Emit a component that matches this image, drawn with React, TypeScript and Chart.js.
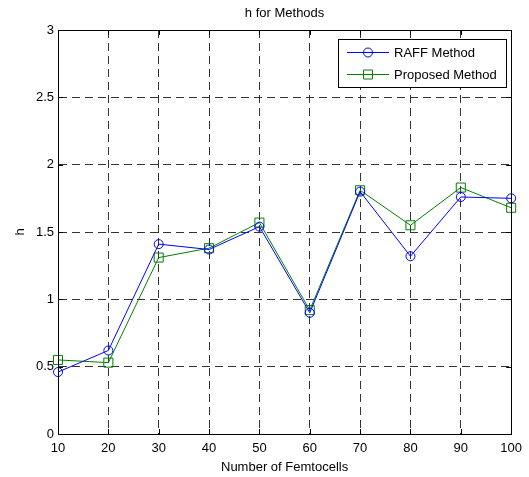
import { useEffect, useRef } from 'react';
import { Chart, registerables } from 'chart.js';

Chart.register(...registerables);

const femtocells = [10, 20, 30, 40, 50, 60, 70, 80, 90, 100];
const raffMethod = [0.46, 0.62, 1.41, 1.37, 1.54, 0.9, 1.8, 1.32, 1.76, 1.75];
const proposedMethod = [0.55, 0.53, 1.31, 1.38, 1.57, 0.92, 1.81, 1.55, 1.83, 1.68];
const yTickValues = [0, 0.5, 1, 1.5, 2, 2.5, 3];
const xTickValues = [10, 20, 30, 40, 50, 60, 70, 80, 90, 100];
const chartTitle = 'h for Methods';
const xAxisTitle = 'Number of Femtocells';
const yAxisTitle = 'h';
const seriesNames = ['RAFF Method', 'Proposed Method'];

const FONT = '"Liberation Sans", Arial, sans-serif';
const BLUE = '#0000ff';
const GREEN = '#008000';

const decorPlugin = {
  id: 'decor',
  afterDraw(chart: any) {
    const { ctx, chartArea } = chart;
    const { left, right, top, bottom } = chartArea;
    const xs = chart.scales.x;
    const ys = chart.scales.y;
    ctx.save();
    ctx.setLineDash([]);
    ctx.strokeStyle = '#000';
    ctx.lineWidth = 1;
    ctx.strokeRect(Math.round(left) + 0.5, Math.round(top) + 0.5, Math.round(right - left), Math.round(bottom - top));
    const tl = 5;
    ctx.beginPath();
    xTickValues.forEach((v) => {
      const px = Math.round(xs.getPixelForValue(v)) + 0.5;
      ctx.moveTo(px, bottom);
      ctx.lineTo(px, bottom - tl);
      ctx.moveTo(px, top);
      ctx.lineTo(px, top + tl);
    });
    yTickValues.forEach((v) => {
      const py = Math.round(ys.getPixelForValue(v)) + 0.5;
      ctx.moveTo(left, py);
      ctx.lineTo(left + tl, py);
      ctx.moveTo(right, py);
      ctx.lineTo(right - tl, py);
    });
    ctx.stroke();

    ctx.fillStyle = '#000';
    ctx.font = `13px ${FONT}`;
    ctx.textAlign = 'center';
    ctx.textBaseline = 'middle';
    ctx.fillText(chartTitle, (left + right) / 2, 13);

    const bx = 338.5, by = 39.5, bw = 168, bh = 48;
    ctx.fillStyle = '#fff';
    ctx.fillRect(bx, by, bw, bh);
    ctx.strokeStyle = '#000';
    ctx.strokeRect(bx, by, bw, bh);
    const rows = [
      { y: 52.5, color: BLUE, marker: 'circle', text: seriesNames[0] },
      { y: 74.5, color: GREEN, marker: 'square', text: seriesNames[1] },
    ];
    rows.forEach((r) => {
      ctx.strokeStyle = r.color;
      ctx.lineWidth = 1;
      ctx.beginPath();
      ctx.moveTo(347, r.y);
      ctx.lineTo(389, r.y);
      ctx.stroke();
      ctx.beginPath();
      if (r.marker === 'circle') {
        ctx.arc(368, r.y, 4.5, 0, Math.PI * 2);
      } else {
        ctx.rect(363.5, r.y - 4.5, 9, 9);
      }
      ctx.stroke();
      ctx.fillStyle = '#000';
      ctx.textAlign = 'left';
      ctx.textBaseline = 'middle';
      ctx.font = `13px ${FONT}`;
      ctx.fillText(r.text, 394, r.y + 0.5);
    });
    ctx.restore();
  },
};

export default function App() {
  const canvasRef = useRef<HTMLCanvasElement | null>(null);

  useEffect(() => {
    document.body.style.margin = '0';
    const canvas = canvasRef.current;
    if (!canvas) return;
    const chart = new Chart(canvas, {
      type: 'line',
      data: {
        datasets: [
          {
            label: seriesNames[0],
            data: femtocells.map((x, i) => ({ x, y: raffMethod[i] })),
            borderColor: BLUE,
            backgroundColor: 'transparent',
            borderWidth: 1,
            pointStyle: 'circle',
            pointRadius: 4.5,
            pointBorderColor: BLUE,
            pointBackgroundColor: 'transparent',
            pointBorderWidth: 1,
            tension: 0,
            clip: false as any,
          },
          {
            label: seriesNames[1],
            data: femtocells.map((x, i) => ({ x, y: proposedMethod[i] })),
            borderColor: GREEN,
            backgroundColor: 'transparent',
            borderWidth: 1,
            pointStyle: 'rect',
            pointRadius: 6.4,
            pointBorderColor: GREEN,
            pointBackgroundColor: 'transparent',
            pointBorderWidth: 1,
            tension: 0,
            clip: false as any,
          },
        ],
      },
      options: {
        animation: false,
        responsive: false,
        maintainAspectRatio: false,
        layout: { padding: { top: 30, right: 16, bottom: 0, left: 0 } },
        plugins: {
          legend: { display: false },
          title: { display: false },
          tooltip: { enabled: false },
        },
        scales: {
          x: {
            type: 'linear',
            min: 10,
            max: 100,
            afterBuildTicks: (scale: any) => {
              scale.ticks = xTickValues.map((v) => ({ value: v }));
            },
            afterFit: (scale: any) => {
              scale.height = 43;
            },
            ticks: {
              color: '#000',
              font: { family: FONT, size: 13 },
              padding: 7,
              maxRotation: 0,
              autoSkip: false,
              callback: (v: any) => String(v),
            },
            grid: { color: '#333', lineWidth: 1, drawTicks: false },
            border: { display: true, color: '#000', width: 1, dash: [8, 5] },
            title: {
              display: true,
              text: xAxisTitle,
              color: '#000',
              font: { family: FONT, size: 13 },
              padding: { top: 0, bottom: 2 },
            },
          },
          y: {
            type: 'linear',
            min: 0,
            max: 3,
            afterBuildTicks: (scale: any) => {
              scale.ticks = yTickValues.map((v) => ({ value: v }));
            },
            afterFit: (scale: any) => {
              scale.width = 58;
            },
            ticks: {
              color: '#000',
              font: { family: FONT, size: 13 },
              padding: 4,
              autoSkip: false,
              callback: (v: any) => String(v),
            },
            grid: { color: '#333', lineWidth: 1, drawTicks: false },
            border: { display: true, color: '#000', width: 1, dash: [8, 5] },
            title: {
              display: true,
              text: yAxisTitle,
              color: '#000',
              font: { family: FONT, size: 13 },
              padding: { top: 13, bottom: 0 },
            },
          },
        },
      },
      plugins: [decorPlugin],
    });
    return () => chart.destroy();
  }, []);

  return (
    <div style={{ width: 529, height: 477 }}>
      <canvas ref={canvasRef} width={529} height={477} style={{ display: 'block' }} />
    </div>
  );
}
